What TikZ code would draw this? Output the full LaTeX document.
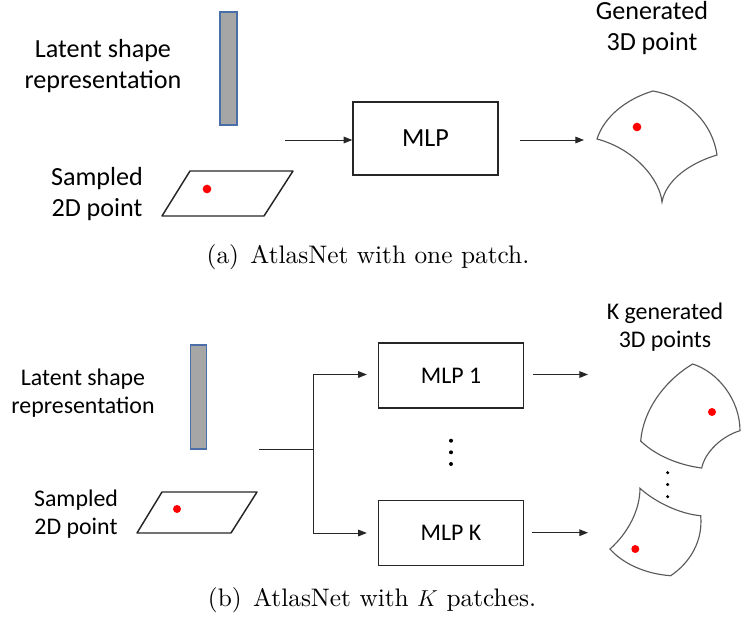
\documentclass[tikz,border=0pt]{standalone}
\usepackage{fontspec}
\newfontfamily\calib{Carlito}
\newfontfamily\capfont{lmroman10-regular.otf}
\usetikzlibrary{arrows.meta}
\definecolor{barfill}{HTML}{A6A6A6}
\definecolor{barline}{HTML}{4A6EA8}
\definecolor{linegray}{HTML}{262626}
\definecolor{patchgray}{HTML}{5A5A5A}
\tikzset{
  lbla/.style={font=\calib\fontsize{19.6}{23.3}\selectfont, align=center, inner sep=0pt},
  lblb/.style={font=\calib\fontsize{17.9}{21}\selectfont, align=center, inner sep=0pt},
  capt/.style={font=\capfont\fontsize{19}{22}\selectfont, inner sep=0pt, anchor=base},
  mlpbox/.style={draw=black!85, line width=1pt, minimum width=108.75pt, inner sep=0pt},
  latentbar/.style={draw=barline, fill=barfill, line width=1pt},
  plane/.style={draw=black!85, line width=1.1pt, line join=round},
  patch/.style={draw=patchgray, line width=0.85pt, fill=white},
  conn/.style={draw=linegray, line width=0.75pt, -{Triangle[length=6.5pt,width=5pt]}},
  wire/.style={draw=linegray, line width=0.75pt},
  reddot/.style={circle, fill=red, inner sep=0pt, minimum size=6.5pt},
  blackdot/.style={circle, fill=black, inner sep=0pt, minimum size=3pt}
}
\begin{document}
\begin{tikzpicture}[x=0.75pt, y=-0.75pt]
\useasboundingbox (0,0) rectangle (744,637);

% ---------- (a) one patch ----------
\node[lbla] (latentA) at (103,66) {Latent shape\\representation};
\node[lbla] (sampledA) at (97,194) {Sampled\\2D point};
\draw[latentbar] (220,12) rectangle (237,125);
\coordinate (pa1) at (162,216);
\coordinate (pa2) at (190,171);
\coordinate (pa3) at (293,171);
\coordinate (pa4) at (264,216);
\draw[plane] (pa1) -- (pa2) -- (pa3) -- (pa4) -- cycle;
\node[reddot] (uvA) at (207,189) {};

\node[mlpbox, minimum height=54.75pt, font=\calib\fontsize{19.6}{23.3}\selectfont] (mlp) at (425.5,138.5) {MLP};
\coordinate (inA) at (285,140);
\coordinate (outA) at (520,140);
\coordinate (tipA) at (584,140);
\draw[conn] (inA) -- (inA -| mlp.west);
\draw[conn] (outA) -- (tipA);

% generated surface patch
\coordinate (gL) at (597,139);
\coordinate (gT) at (653,91);
\coordinate (gR) at (717,155);
\coordinate (gB) at (662,202);
\draw[patch] (gL) .. controls (604,117) and (626,99) .. (gT)
  .. controls (683,96) and (712,120) .. (gR)
  .. controls (690,163) and (666,180) .. (gB)
  .. controls (660,180) and (635,149) .. cycle;
\node[reddot] (ptA) at (637,127) {};
\node[lbla] (genA) at (652,28) {Generated\\3D point};

\node[capt] (capA) at (368,263) {(a)\hspace{0.45em}AtlasNet with one patch.};

% ---------- (b) K patches ----------
\node[lblb] (latentB) at (83,393) {Latent shape\\representation};
\node[lblb] (sampledB) at (76,514) {Sampled\\2D point};
\draw[latentbar] (190.7,345) rectangle (206.7,449);
\coordinate (pb1) at (137,533);
\coordinate (pb2) at (162,492);
\coordinate (pb3) at (257,492);
\coordinate (pb4) at (231,533);
\draw[plane] (pb1) -- (pb2) -- (pb3) -- (pb4) -- cycle;
\node[reddot, minimum size=6pt] (uvB) at (177,509) {};

\node[mlpbox, minimum height=48.75pt, font=\calib\fontsize{17.9}{21}\selectfont] (mlp1) at (451,375.5) {MLP 1};
\node[mlpbox, minimum height=48.75pt, font=\calib\fontsize{17.9}{21}\selectfont] (mlpK) at (451,533) {MLP K};

\coordinate (inB) at (259,449);
\coordinate (split) at (313,449);
\coordinate (up) at (313,374.5);
\coordinate (down) at (313,533);
\draw[wire] (inB) -- (split);
\draw[wire] (up) -- (down);
\draw[conn, shorten >=11pt*0.75] (up) -- (up -| mlp1.west);
\draw[conn, shorten >=11pt*0.75] (down) -- (down -| mlpK.west);

\node[blackdot] (vd1) at (451,440.7) {};
\node[blackdot] (vd2) at (451,452.3) {};
\node[blackdot] (vd3) at (451,464) {};

\coordinate (out1) at (533,374.5);
\coordinate (tip1) at (588,374.5);
\coordinate (outK) at (532,532.7);
\coordinate (tipK) at (588,532.7);
\draw[conn] (out1) -- (tip1);
\draw[conn] (outK) -- (tipK);

% first generated patch
\coordinate (hT) at (692.7,364);
\coordinate (hR) at (740,430.7);
\coordinate (hB) at (701.7,468);
\coordinate (hL) at (640.7,441);
\draw[patch] (hL) .. controls (643,411) and (664,381) .. (hT)
  .. controls (718,372) and (740,400) .. (hR)
  .. controls (722,436) and (705,452) .. (hB)
  .. controls (678,465) and (655,455) .. cycle;
\node[reddot, minimum size=6pt] (pt1) at (712,412) {};

% K-th generated patch
\coordinate (kTL) at (640,488.3);
\coordinate (kTR) at (700.7,515.7);
\coordinate (kBR) at (670.7,575.7);
\coordinate (kL) at (610,549);
\draw[patch] (kTL) .. controls (655,502) and (680,514) .. (kTR)
  .. controls (703,540) and (691,562) .. (kBR)
  .. controls (645,574) and (622,563) .. (kL)
  .. controls (628,533) and (640,510) .. cycle;
\node[reddot, minimum size=6pt] (ptK) at (635.3,549) {};

\node[blackdot, minimum size=2.6pt] (hd1) at (667.7,472.7) {};
\node[blackdot, minimum size=2.6pt] (hd2) at (667.7,484.5) {};
\node[blackdot, minimum size=2.6pt] (hd3) at (667.7,496.7) {};

\node[lblb] (genB) at (665,327) {K generated\\3D points};

\node[capt] (capB) at (372,606) {(b)\hspace{0.45em}AtlasNet with $K$ patches.};
\end{tikzpicture}
\end{document}
